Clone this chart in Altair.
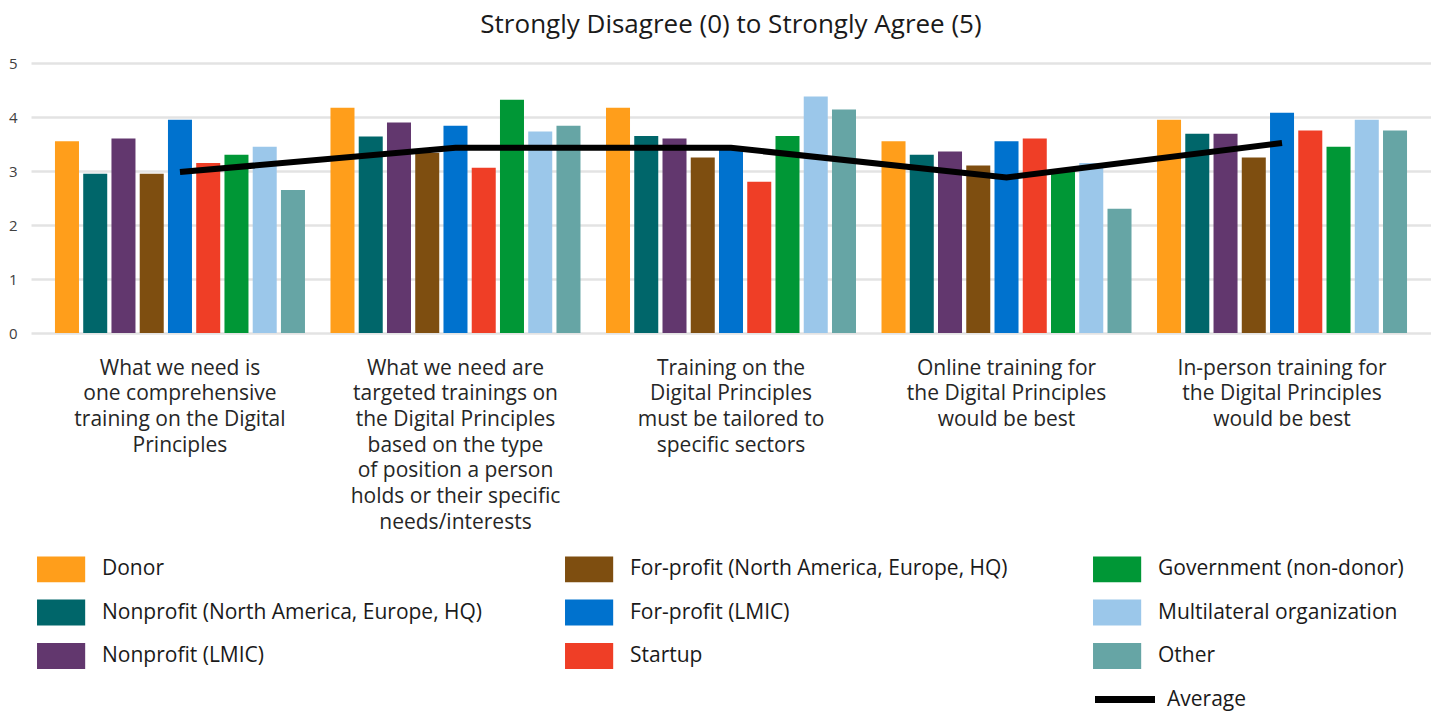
import altair as alt
import pandas as pd

# ---- data ----
categories = [
    "What we need is|one comprehensive|training on the Digital|Principles",
    "What we need are|targeted trainings on|the Digital Principles|based on the type|of position a person|holds or their specific|needs/interests",
    "Training on the|Digital Principles|must be tailored to|specific sectors",
    "Online training for|the Digital Principles|would be best",
    "In-person training for|the Digital Principles|would be best",
]

groups = [
    "Donor",
    "Nonprofit (North America, Europe, HQ)",
    "Nonprofit (LMIC)",
    "For-profit (North America, Europe, HQ)",
    "For-profit (LMIC)",
    "Startup",
    "Government (non-donor)",
    "Multilateral organization",
    "Other",
]

colors = [
    "#FF9E1B", "#00666A", "#62376E", "#7E4E10", "#0072CE",
    "#EF3E26", "#009736", "#9BC7EA", "#66A5A5",
]

donor          = [3.55, 4.17, 4.17, 3.55, 3.95]
nonprofit_na   = [2.95, 3.64, 3.65, 3.30, 3.69]
nonprofit_lmic = [3.60, 3.90, 3.60, 3.36, 3.69]
forprofit_na   = [2.95, 3.34, 3.25, 3.10, 3.25]
forprofit_lmic = [3.95, 3.84, 3.45, 3.55, 4.08]
startup        = [3.15, 3.06, 2.80, 3.60, 3.75]
government     = [3.30, 4.32, 3.65, 3.00, 3.45]
multilateral   = [3.45, 3.73, 4.38, 3.15, 3.95]
other          = [2.65, 3.84, 4.14, 2.30, 3.75]

average = [2.98, 3.43, 3.43, 2.88, 3.52]

series_values = [donor, nonprofit_na, nonprofit_lmic, forprofit_na, forprofit_lmic,
                 startup, government, multilateral, other]

rows = []
for g, vals in zip(groups, series_values):
    for c, v in zip(categories, vals):
        rows.append({"category": c, "group": g, "value": v})
bars_df = pd.DataFrame(rows)
avg_df = pd.DataFrame({"category": categories, "value": average, "series": ["Average"] * len(categories)})

FONT = "Open Sans"

x_scale = alt.Scale(paddingInner=0.0926, paddingOuter=0.087)
x_axis = alt.Axis(
    title=None, labelAngle=0, domain=False, ticks=False, tickSize=0,
    labelExpr="split(datum.label, '|')", labelFontSize=21, labelLineHeight=25.7,
    labelColor="#262626", labelFont=FONT, labelPadding=24, labelBaseline="top",
    labelLimit=400,
)
y_scale = alt.Scale(domain=[0, 5])
y_axis = alt.Axis(
    title=None, values=[0, 1, 2, 3, 4, 5], domain=False, ticks=False, tickSize=0,
    labelFontSize=15, labelColor="#404040", labelFont=FONT, labelPadding=14,
    gridColor="#e3e3e3", gridWidth=2.5,
)

bars = alt.Chart(bars_df).mark_bar().encode(
    x=alt.X("category:N", sort=categories, scale=x_scale, axis=x_axis),
    xOffset=alt.XOffset("group:N", sort=groups, scale=alt.Scale(paddingInner=0.15, paddingOuter=0)),
    y=alt.Y("value:Q", scale=y_scale, axis=y_axis),
    color=alt.Color(
        "group:N",
        scale=alt.Scale(domain=groups, range=colors),
        legend=alt.Legend(
            title=None, orient="none", legendX=8.6, legendY=484.5,
            columns=3, gridAlign="all", columnPadding=82, rowPadding=8.5,
            symbolType="M-1.12,-0.6H1.12V0.6H-1.12Z", symbolSize=1849,
            symbolStrokeWidth=0, symbolOpacity=1,
            labelFontSize=21, labelFont=FONT, labelColor="#1a1a1a",
            labelOffset=19.4, labelLimit=700, padding=0,
        ),
    ),
)

line = alt.Chart(avg_df).mark_line(strokeWidth=6).encode(
    x=alt.X("category:N", sort=categories),
    y=alt.Y("value:Q"),
    stroke=alt.Stroke(
        "series:N",
        scale=alt.Scale(domain=["Average"], range=["#000000"]),
        legend=alt.Legend(
            title=None, orient="none", legendX=1080.5, legendY=623,
            symbolType="M-3,0L3,0", symbolSize=400, symbolStrokeWidth=7,
            labelFontSize=21, labelFont=FONT, labelColor="#1a1a1a",
            labelOffset=28.5, padding=0,
        ),
    ),
)

chart = alt.layer(bars, line).properties(
    width=1400,
    height=270,
    padding={"top": 4, "left": 0, "right": 0, "bottom": 0},
    title=alt.Title(
        "Strongly Disagree (0) to Strongly Agree (5)",
        fontSize=26, font=FONT, fontWeight="normal", color="#1a1a1a",
        anchor="middle", offset=18,
    ),
).configure_view(stroke=None)

chart.save("out.html", embed_options={"renderer": "svg", "actions": False})
